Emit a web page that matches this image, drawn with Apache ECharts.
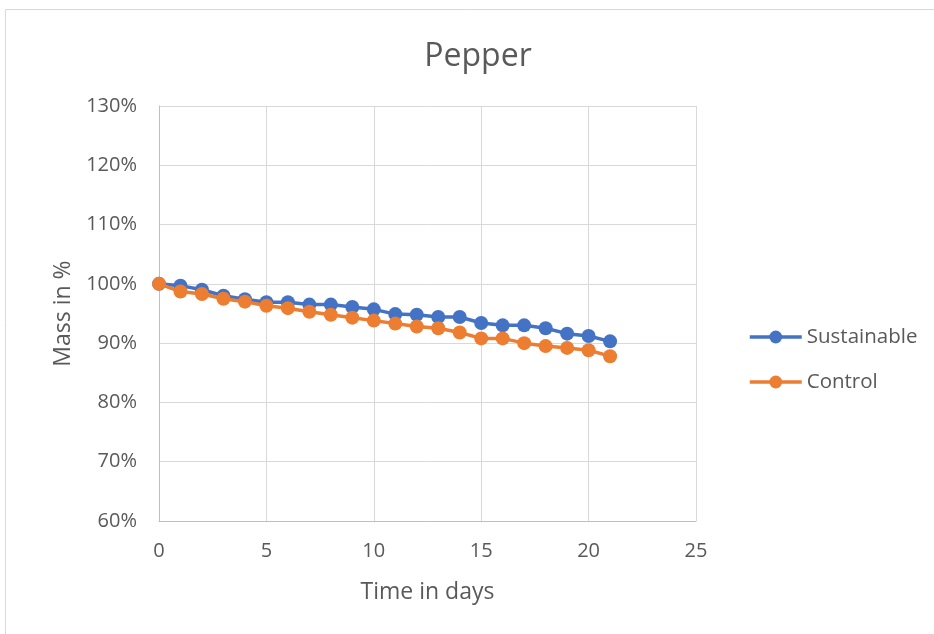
<!DOCTYPE html>
<html>
<head>
<meta charset="utf-8">
<script src="https://cdn.jsdelivr.net/npm/echarts@6/dist/echarts.min.js"></script>
<style>
  html, body { margin: 0; padding: 0; background: #ffffff; }
  #chart { width: 934px; height: 634px; }
</style>
</head>
<body>
<div id="chart"></div>
<script>
// Relative mass of pepper samples over three weeks
const days = [0, 1, 2, 3, 4, 5, 6, 7, 8, 9, 10, 11, 12, 13, 14, 15, 16, 17, 18, 19, 20, 21];
const sustainable = [100.0, 99.7, 99.0, 98.0, 97.4, 96.9, 96.9, 96.5, 96.5, 96.1, 95.7, 94.9, 94.8, 94.4, 94.4, 93.4, 93.0, 93.0, 92.5, 91.6, 91.2, 90.3];
const control = [100.0, 98.7, 98.3, 97.5, 97.0, 96.3, 95.9, 95.3, 94.8, 94.3, 93.8, 93.3, 92.8, 92.5, 91.8, 90.8, 90.8, 90.0, 89.5, 89.2, 88.8, 87.8];
const seriesNames = ['Sustainable', 'Control'];
const seriesColors = ['#4472C4', '#ED7D31'];

const FONT = '"Open Sans", "Noto Sans", sans-serif';
const TEXT = '#595959';

const pairs = (ys) => days.map((d, i) => [d, ys[i]]);

const chart = echarts.init(document.getElementById('chart'), null, { renderer: 'canvas' });

chart.setOption({
  backgroundColor: '#ffffff',
  animation: false,
  graphic: [{
    type: 'rect',
    shape: { x: 5.5, y: 9.5, width: 940, height: 640 },
    style: { fill: 'none', stroke: '#d9d9d9', lineWidth: 1 },
    silent: true
  }],
  title: {
    text: 'Pepper',
    left: 473,
    top: 36,
    textAlign: 'center',
    textStyle: { fontFamily: FONT, fontSize: 32, fontWeight: 'normal', color: TEXT }
  },
  grid: { left: 159, right: 238, top: 106, bottom: 113, containLabel: false },
  legend: {
    orient: 'vertical',
    left: 748,
    top: 325,
    padding: 0,
    itemWidth: 52,
    itemHeight: 16,
    itemGap: 21,
    data: seriesNames,
    lineStyle: { width: 3.5 },
    textStyle: { fontFamily: FONT, fontSize: 20.5, color: TEXT, lineHeight: 24 }
  },
  xAxis: {
    type: 'value',
    min: 0,
    max: 25,
    interval: 5,
    name: 'Time in days',
    nameLocation: 'middle',
    nameGap: 60,
    nameTextStyle: { fontFamily: FONT, fontSize: 23, color: TEXT },
    axisLine: { show: true, onZero: false, lineStyle: { color: '#bfbfbf', width: 1 } },
    axisTick: { show: false },
    splitLine: { show: true, lineStyle: { color: '#d9d9d9', width: 1 } },
    axisLabel: { fontFamily: FONT, fontSize: 20, color: TEXT, margin: 20 }
  },
  yAxis: {
    type: 'value',
    min: 60,
    max: 130,
    interval: 10,
    name: 'Mass in %',
    nameLocation: 'middle',
    nameGap: 84,
    nameTextStyle: { fontFamily: FONT, fontSize: 23, color: TEXT },
    axisLine: { show: true, lineStyle: { color: '#bfbfbf', width: 1 } },
    axisTick: { show: false },
    splitLine: { show: true, lineStyle: { color: '#d9d9d9', width: 1 } },
    axisLabel: { fontFamily: FONT, fontSize: 20, color: TEXT, margin: 22, formatter: (v) => v + '%' }
  },
  series: seriesNames.map((name, k) => ({
    name: name,
    type: 'line',
    data: pairs(k === 0 ? sustainable : control),
    symbol: 'circle',
    symbolSize: 14,
    showSymbol: true,
    color: seriesColors[k],
    lineStyle: { width: 3.5, color: seriesColors[k] },
    itemStyle: { color: seriesColors[k] },
    z: k === 0 ? 2 : 3
  }))
});
</script>
</body>
</html>
